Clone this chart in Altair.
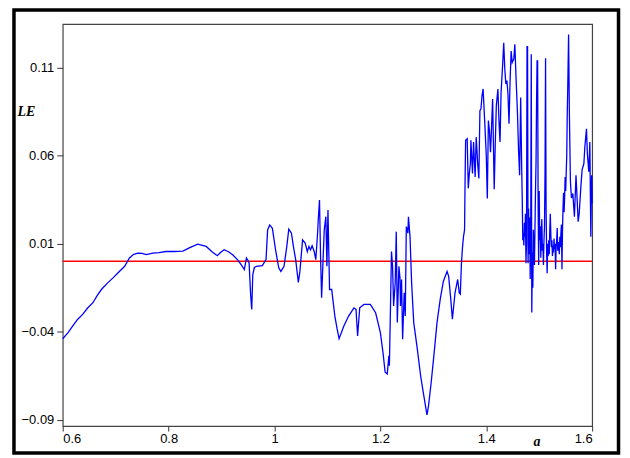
import altair as alt
import pandas as pd

# parameter a and Lyapunov exponent LE
a_vals = [
    0.600, 0.610, 0.619, 0.628, 0.638, 0.647, 0.657, 0.665, 0.673, 0.684,
    0.695, 0.706, 0.717, 0.726, 0.734, 0.742, 0.750, 0.758, 0.770, 0.782,
    0.795, 0.810, 0.827, 0.840, 0.855, 0.871, 0.882, 0.892, 0.898, 0.905,
    0.913, 0.921, 0.930, 0.937, 0.943, 0.947, 0.950, 0.952, 0.955, 0.957,
    0.959, 0.962, 0.966, 0.977, 0.984, 0.987, 0.991, 0.996, 1.002, 1.008,
    1.012, 1.018, 1.023, 1.027, 1.032, 1.036, 1.040, 1.045, 1.048, 1.053,
    1.058, 1.062, 1.065, 1.068, 1.071, 1.075, 1.078, 1.081, 1.083, 1.085,
    1.087, 1.089, 1.092, 1.094, 1.097, 1.099, 1.101, 1.104, 1.108, 1.114,
    1.118, 1.122, 1.131, 1.140, 1.150, 1.154, 1.157, 1.161, 1.169, 1.181,
    1.191, 1.200, 1.205, 1.209, 1.213, 1.216, 1.217, 1.219, 1.221, 1.223,
    1.225, 1.228, 1.230, 1.232, 1.235, 1.237, 1.238, 1.240, 1.242, 1.245,
    1.247, 1.249, 1.252, 1.253, 1.256, 1.259, 1.263, 1.269, 1.276, 1.282,
    1.288, 1.291, 1.296, 1.301, 1.307, 1.313, 1.319, 1.326, 1.329, 1.333,
    1.336, 1.341, 1.346, 1.349, 1.351, 1.353, 1.355, 1.357, 1.359, 1.360,
    1.361, 1.364, 1.366, 1.368, 1.370, 1.371, 1.374, 1.376, 1.379, 1.381,
    1.384, 1.386, 1.388, 1.390, 1.392, 1.394, 1.397, 1.400, 1.402, 1.404,
    1.406, 1.408, 1.410, 1.412, 1.415, 1.417, 1.419, 1.422, 1.424, 1.426,
    1.428, 1.431, 1.433, 1.435, 1.437, 1.439, 1.441, 1.443, 1.445, 1.447,
    1.449, 1.452, 1.454, 1.456, 1.459, 1.461, 1.463, 1.465, 1.467, 1.468,
    1.469, 1.470, 1.471, 1.472, 1.473, 1.474, 1.475, 1.476, 1.477, 1.478,
    1.479, 1.480, 1.481, 1.482, 1.483, 1.484, 1.485, 1.486, 1.487, 1.488,
    1.489, 1.490, 1.491, 1.493, 1.494, 1.495, 1.496, 1.497, 1.498, 1.499,
    1.500, 1.501, 1.502, 1.503, 1.504, 1.505, 1.506, 1.507, 1.508, 1.509,
    1.510, 1.511, 1.512, 1.513, 1.514, 1.515, 1.516, 1.517, 1.518, 1.519,
    1.520, 1.521, 1.522, 1.523, 1.524, 1.525, 1.526, 1.527, 1.528, 1.529,
    1.530, 1.531, 1.532, 1.533, 1.534, 1.535, 1.536, 1.537, 1.538, 1.539,
    1.540, 1.541, 1.542, 1.543, 1.544, 1.545, 1.546, 1.547, 1.548, 1.549,
    1.550, 1.552, 1.553, 1.554, 1.5555, 1.557, 1.559, 1.561, 1.5635, 1.5665,
    1.5695, 1.5736, 1.5755, 1.5787, 1.581, 1.5844, 1.5862, 1.5893, 1.591, 1.5937,
    1.5956, 1.5975, 1.599, 1.600,
]
le_vals = [
    -0.0440, -0.0405, -0.0367, -0.0330, -0.0300, -0.0265, -0.0235, -0.0195, -0.0160, -0.0125,
    -0.0094, -0.0060, -0.0028, 0.0019, 0.0040, 0.0047, 0.0045, 0.0038, 0.0047, 0.0050,
    0.0056, 0.0056, 0.0058, 0.0078, 0.0098, 0.0085, 0.0055, 0.0032, 0.0050, 0.0066,
    0.0055, 0.0038, 0.0010, -0.0019, -0.0047, 0.0019, 0.0005, -0.0009, -0.0194, -0.0273,
    -0.0075, -0.0035, -0.0028, -0.0024, 0.0010, 0.0179, 0.0207, 0.0188, 0.0066, -0.0037,
    -0.0057, -0.0028, 0.0080, 0.0183, 0.0160, 0.0080, 0.0010, -0.0119, -0.0057, 0.0122,
    0.0104, 0.0056, 0.0085, 0.0066, 0.0089, 0.0056, 0.0010, 0.0141, 0.0254, 0.0349,
    0.0028, -0.0207, 0.0028, 0.0179, 0.0254, -0.0028, 0.0292, -0.0160, -0.0160, -0.0311,
    -0.0380, -0.0439, -0.0367, -0.0311, -0.0264, -0.0273, -0.0424, -0.0264, -0.0245, -0.0245,
    -0.0292, -0.0405, -0.0520, -0.0630, -0.0640, -0.0537, -0.0593, -0.0273, 0.0056, -0.0028,
    -0.0254, -0.0122, 0.0169, -0.0348, -0.0028, -0.0094, -0.0254, -0.0103, -0.0442, -0.0179,
    -0.0311, 0.0198, 0.0160, 0.0254, 0.0141, -0.0122, -0.0348, -0.0480, -0.0650, -0.0763,
    -0.0872, -0.0820, -0.0687, -0.0537, -0.0348, -0.0216, -0.0113, -0.0057, -0.0085, -0.0216,
    -0.0329, -0.0179, -0.0103, -0.0179, -0.0186, -0.0019, 0.0075, 0.0141, 0.0179, 0.0462,
    0.0688, 0.0697, 0.0415, 0.0500, 0.0556, 0.0688, 0.0500, 0.0678, 0.0480, 0.0706,
    0.0546, 0.0471, 0.0857, 0.0867, 0.0942, 0.0980, 0.0800, 0.0603, 0.0358, 0.0800,
    0.0744, 0.0621, 0.0763, 0.0923, 0.0410, 0.0669, 0.0885, 0.0980, 0.0800, 0.0678,
    0.0961, 0.1120, 0.1243, 0.1093, 0.1008, 0.1027, 0.0951, 0.0782, 0.1027, 0.1196,
    0.1130, 0.1150, 0.1234, 0.1064, 0.0838, 0.0631, 0.0490, 0.0932, 0.0518, 0.0350,
    0.0120, 0.0160, 0.0090, 0.0220, 0.0140, 0.0270, -0.0010, 0.0100, 0.1220, 0.1220,
    -0.0010, 0.0300, 0.0040, 0.0250, -0.0100, 0.0200, 0.1177, -0.0290, 0.0050, -0.0150,
    0.0180, 0.0080, -0.0020, 0.0400, 0.0560, 0.0900, 0.1140, 0.1140, 0.0300, -0.0020,
    0.0400, 0.0120, 0.0200, 0.0020, 0.0150, 0.0240, 0.0060, 0.0100, -0.0020, 0.0120,
    0.0200, 0.0500, 0.1155, 0.0300, 0.0050, -0.0067, 0.0100, 0.0030, 0.0120, 0.0040,
    0.0180, 0.0270, 0.0150, 0.0080, 0.0120, 0.0030, 0.0090, 0.0050, 0.0130, 0.0070,
    0.0100, -0.0045, 0.0080, 0.0120, 0.0190, 0.0060, 0.0110, 0.0090, 0.0040, 0.0140,
    0.0080, 0.0160, 0.0210, -0.0045, 0.0180, 0.0300, 0.0390, 0.0280, 0.0360, 0.0480,
    0.0400, 0.0600, 0.0840, 0.1000, 0.1290, 0.0840, 0.0450, 0.0360, 0.0386, 0.0254,
    0.0490, 0.0226, 0.0270, 0.0424, 0.0520, 0.0556, 0.0650, 0.0753, 0.0610, 0.0510,
    0.0678, 0.0140, 0.0490, 0.0330,
]

x_ticks = [0.6, 0.8, 1.0, 1.2, 1.4, 1.6]
y_ticks = [-0.09, -0.04, 0.01, 0.06, 0.11]

df = pd.DataFrame({"a": a_vals, "LE": le_vals})

x_scale = alt.Scale(domain=[0.6, 1.6], nice=False, zero=False)
y_scale = alt.Scale(domain=[-0.0936, 0.1349], nice=False, zero=False)

x_axis = alt.Axis(
    values=x_ticks, format="~g", title="a", grid=False, domain=False,
    labelFont="Liberation Sans", labelFontSize=13, labelColor="#000",
    labelPadding=2, tickSize=5, tickColor="#333",
    titleFont="Liberation Serif", titleFontSize=14, titleFontStyle="italic",
    titleFontWeight="bold", titleColor="#000", titleX=476, titleY=16,
    titleBaseline="middle", titleAlign="center",
)
y_axis = alt.Axis(
    values=y_ticks, format=".2f", title="LE", grid=False, domain=False,
    labelFont="Liberation Sans", labelFontSize=13, labelColor="#000",
    labelPadding=3, tickSize=6, tickColor="#333",
    titleFont="Liberation Serif", titleFontSize=14, titleFontStyle="italic",
    titleFontWeight="bold", titleColor="#000", titleAngle=0, titleX=-46,
    titleY=88, titleAlign="left", titleBaseline="middle",
)

zero_df = pd.DataFrame({"y": [0.0]})
rule = alt.Chart(zero_df).mark_rule(color="#ff0000", strokeWidth=1.5).encode(
    y=alt.Y("y:Q", scale=y_scale, axis=y_axis)
)

line = alt.Chart(df).mark_line(color="#0000ff", strokeWidth=1.3).encode(
    x=alt.X("a:Q", scale=x_scale, axis=x_axis),
    y=alt.Y("LE:Q", scale=y_scale, axis=y_axis),
)

frame_df = pd.DataFrame({"k": [0]})
frame = alt.Chart(frame_df).mark_rect(
    filled=False, stroke="#000", strokeWidth=3.5
).encode(
    x=alt.value(-49), x2=alt.value(558.5), y=alt.value(-14), y2=alt.value(431)
)

chart = alt.layer(rule, line, frame).properties(
    width=532, height=404,
    autosize=alt.AutoSizeParams(type="none"),
    padding={"left": 55, "top": 15, "right": 30, "bottom": 30},
    background="white",
).configure_view(stroke="#444", strokeWidth=1.2)

chart.save("out.html", embed_options={"renderer": "svg", "actions": False})
